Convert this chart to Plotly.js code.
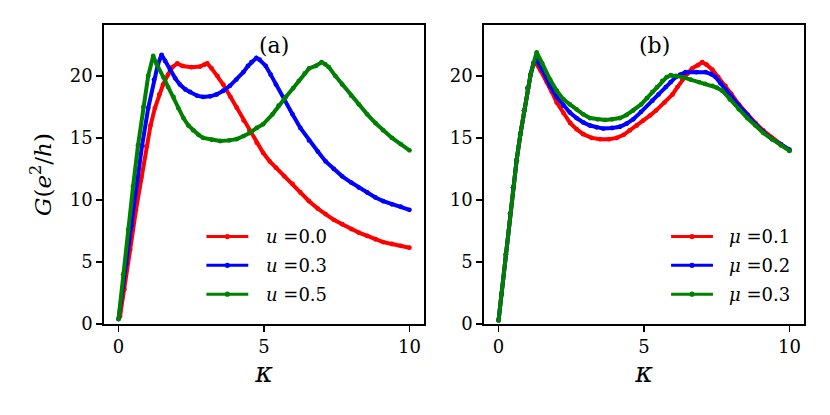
<!DOCTYPE html>
<html>
<head>
<meta charset="utf-8">
<script src="https://cdn.plot.ly/plotly-3.0.1.min.js"></script>
<style>html,body{margin:0;padding:0;background:#fff;}#chart{width:830px;height:415px;}</style>
</head>
<body>
<div id="chart"></div>
<script>
// ---- Panel (a): G vs kappa for several u ----
const kappaU0 = [0.05,0.2,0.4,0.6,0.78,0.96,1.1,1.25,1.4,1.53,1.7,1.85,2.02,2.2,2.5,2.8,2.95,3.05,3.2,3.4,3.6,3.85,4.06,4.3,4.5,4.75,4.97,5.2,5.41,5.7,5.98,6.25,6.55,6.85,7.12,7.4,7.69,8.0,8.26,8.55,8.83,9.1,9.4,9.7,10];
const gU0     = [0.6,2.8,6.0,9.2,11.8,14.3,16.0,17.4,18.5,19.3,20.1,20.7,21.0,20.8,20.7,20.75,20.9,21.0,20.6,20.0,19.3,18.3,17.45,16.4,15.6,14.6,13.8,13.1,12.6,11.9,11.3,10.6,9.9,9.3,8.85,8.4,8.04,7.65,7.37,7.1,6.83,6.6,6.45,6.3,6.15];

const kappaU3 = [0,0.15,0.27,0.45,0.62,0.81,1.02,1.22,1.35,1.48,1.6,1.77,1.95,2.11,2.3,2.46,2.7,2.91,3.15,3.37,3.6,3.83,4.05,4.29,4.45,4.57,4.74,4.85,5.06,5.23,5.41,5.7,5.98,6.25,6.55,6.85,7.12,7.4,7.69,8.0,8.26,8.55,8.83,9.1,9.4,9.7,10];
const gU3     = [0.4,3.0,4.9,7.9,11.2,14.4,17.4,19.7,20.9,21.7,21.2,20.5,19.8,19.3,18.9,18.7,18.4,18.3,18.35,18.5,18.8,19.2,19.7,20.3,20.8,21.1,21.45,21.3,20.8,20.1,19.3,18.0,16.9,15.8,14.8,13.9,13.1,12.5,11.9,11.4,11.0,10.6,10.2,9.9,9.65,9.45,9.2];

const kappaU5 = [0,0.16,0.33,0.5,0.67,0.85,1.02,1.19,1.3,1.54,1.7,1.89,2.05,2.23,2.4,2.57,2.75,2.91,3.2,3.49,3.8,4.06,4.3,4.51,4.75,4.97,5.29,5.5,5.75,6.0,6.2,6.4,6.55,6.78,6.98,7.1,7.23,7.45,7.69,8.0,8.26,8.55,8.83,9.1,9.4,9.7,10];
const gU5     = [0.4,4.0,7.6,11.1,14.4,17.5,20.0,21.6,21.0,19.9,19.1,18.3,17.4,16.6,16.0,15.6,15.25,15.0,14.85,14.75,14.8,14.9,15.15,15.4,15.8,16.1,16.9,17.6,18.3,19.0,19.6,20.2,20.6,20.8,21.1,20.95,20.7,20.0,19.3,18.4,17.7,16.9,16.2,15.6,15.0,14.5,14.0];

// ---- Panel (b): G vs kappa for several mu ----
const kappaM1 = [0,0.1,0.25,0.4,0.5,0.62,0.75,0.88,1.0,1.1,1.2,1.26,1.45,1.66,1.83,2.0,2.23,2.46,2.68,2.91,3.2,3.49,3.8,4.06,4.3,4.51,4.75,4.97,5.2,5.41,5.7,5.98,6.15,6.32,6.5,6.66,6.85,7.0,7.15,7.35,7.55,7.8,8.0,8.26,8.55,8.83,9.1,9.4,9.7,10];
const gM1     = [0.3,2.4,5.6,8.9,11.0,13.2,15.3,17.2,19.0,20.1,21.0,21.1,20.4,19.5,18.7,17.85,17.0,16.2,15.7,15.3,15.0,14.9,14.9,15.0,15.25,15.6,16.0,16.4,16.8,17.2,17.85,18.5,19.1,19.7,20.2,20.6,20.85,21.1,20.9,20.5,19.9,19.2,18.55,17.7,16.9,16.2,15.6,15.0,14.5,14.0];

const kappaM2 = [0,0.1,0.25,0.4,0.5,0.62,0.75,0.88,1.0,1.1,1.2,1.31,1.5,1.77,2.0,2.23,2.45,2.68,2.91,3.14,3.37,3.6,3.9,4.17,4.4,4.63,4.9,5.29,5.5,5.75,5.92,6.09,6.25,6.43,6.8,7.12,7.3,7.46,7.63,7.8,8.0,8.26,8.55,8.83,9.1,9.4,9.7,10];
const gM2     = [0.3,2.4,5.6,8.9,11.0,13.2,15.3,17.2,19.0,20.1,21.0,21.3,20.5,19.2,18.3,17.6,17.05,16.6,16.25,16.0,15.85,15.75,15.8,15.9,16.15,16.5,17.1,18.0,18.5,19.1,19.5,19.9,20.1,20.3,20.3,20.3,20.15,19.9,19.4,18.9,18.35,17.6,16.85,16.1,15.5,14.9,14.5,14.05];

const kappaM3 = [0,0.1,0.25,0.4,0.5,0.62,0.75,0.88,1.0,1.1,1.2,1.31,1.5,1.77,2.0,2.23,2.45,2.68,2.91,3.14,3.4,3.66,3.9,4.17,4.4,4.63,4.9,5.1,5.29,5.45,5.63,5.78,5.92,6.1,6.32,6.6,6.89,7.1,7.35,7.5,7.69,7.95,8.26,8.55,8.83,9.1,9.4,9.7,10];
const gM3     = [0.3,2.4,5.6,8.9,11.0,13.2,15.3,17.2,19.0,20.1,21.0,21.9,21.0,19.7,18.8,18.1,17.7,17.3,16.9,16.6,16.5,16.45,16.5,16.6,16.85,17.2,17.7,18.2,18.7,19.1,19.6,19.9,20.05,20.0,19.9,19.7,19.5,19.35,19.2,19.05,18.8,18.1,17.3,16.6,16.0,15.4,14.9,14.4,13.95];

const namesA = ['<i>u</i> =0.0', '<i>u</i> =0.3', '<i>u</i> =0.5'];
const namesB = ['<i>μ</i> =0.1', '<i>μ</i> =0.2', '<i>μ</i> =0.3'];
const colors = ['#ff0000', '#0000ff', '#008000'];
const xTicks = [0, 5, 10];
const yTicks = [0, 5, 10, 15, 20];

const FONT = 'DejaVu Serif';

const seriesA = [[kappaU0, gU0], [kappaU3, gU3], [kappaU5, gU5]];
const seriesB = [[kappaM1, gM1], [kappaM2, gM2], [kappaM3, gM3]];

const traces = [];
function addTraces(series, names, xa, ya) {
  series.forEach((s, i) => {
    traces.push({
      x: s[0], y: s[1], name: names[i], type: 'scatter', mode: 'lines+markers',
      xaxis: xa, yaxis: ya, showlegend: false,
      line: {color: colors[i], width: 4},
      marker: {color: colors[i], size: 4.8}
    });
  });
}
addTraces(seriesA, namesA, 'x', 'y');
addTraces(seriesB, namesB, 'x2', 'y2');

function xax(domain, anchor) {
  return {
    domain: domain, anchor: anchor, range: [-0.5, 10.5], tickvals: xTicks,
    ticks: 'outside', ticklen: 6, tickwidth: 1.5, tickcolor: '#000',
    showline: true, linewidth: 1.8, linecolor: '#000', mirror: true,
    showgrid: false, zeroline: false,
    tickfont: {family: FONT, size: 18, color: '#000'},
    title: {text: '<i>κ</i>', font: {family: FONT, size: 27, color: '#000'}, standoff: 4}
  };
}
function yax(anchor, withTitle) {
  const a = {
    anchor: anchor, range: [0, 24.1], tickvals: yTicks,
    ticks: 'outside', ticklen: 6, tickwidth: 1.5, tickcolor: '#000',
    showline: true, linewidth: 1.8, linecolor: '#000', mirror: true,
    showgrid: false, zeroline: false,
    tickfont: {family: FONT, size: 18, color: '#000'}
  };
  if (withTitle) {
    a.title = {text: '<i>G</i>(<i>e</i><sup>2</sup>/<i>h</i>)', font: {family: FONT, size: 23, color: '#000'}, standoff: 12};
  }
  return a;
}

// legend drawn with shapes + annotations
const shapes = [];
const annotations = [];
const legRowsY = [7.05, 4.73, 2.4];
function addLegend(names, xr, yr, x0, x1, xt) {
  names.forEach((n, i) => {
    const y = legRowsY[i];
    shapes.push({type: 'line', xref: xr, yref: yr, x0: x0, x1: x1, y0: y, y1: y,
      line: {color: colors[i], width: 3}});
    const xm = (x0 + x1) / 2;
    shapes.push({type: 'circle', xref: xr, yref: yr, xsizemode: 'pixel', ysizemode: 'pixel',
      xanchor: xm, yanchor: y, x0: -2.6, x1: 2.6, y0: -2.6, y1: 2.6,
      fillcolor: colors[i], line: {color: colors[i], width: 0}});
    annotations.push({xref: xr, yref: yr, x: xt, y: y, text: n, showarrow: false,
      xanchor: 'left', yanchor: 'middle', font: {family: FONT, size: 18, color: '#000'}});
  });
}
addLegend(namesA, 'x', 'y', 3.02, 4.46, 5.0);
addLegend(namesB, 'x2', 'y2', 5.93, 7.37, 7.86);

annotations.push({xref: 'x', yref: 'y', x: 5.35, y: 22.45, text: '(a)', showarrow: false,
  font: {family: FONT, size: 22, color: '#000'}});
annotations.push({xref: 'x2', yref: 'y2', x: 5.35, y: 22.45, text: '(b)', showarrow: false,
  font: {family: FONT, size: 22, color: '#000'}});

const layout = {
  width: 830, height: 415,
  margin: {l: 104, r: 26, t: 25, b: 91},
  paper_bgcolor: '#fff', plot_bgcolor: '#fff',
  showlegend: false,
  xaxis: xax([0, 0.4571], 'y'),
  yaxis: yax('x', true),
  xaxis2: xax([0.5429, 1], 'y2'),
  yaxis2: yax('x2', false),
  shapes: shapes,
  annotations: annotations,
  font: {family: FONT, color: '#000'}
};

Plotly.newPlot('chart', traces, layout, {displayModeBar: false, staticPlot: true});
</script>
</body>
</html>
